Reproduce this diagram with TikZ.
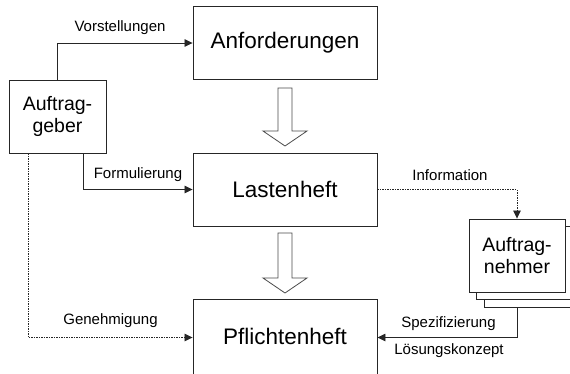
\documentclass[tikz,border=0pt]{standalone}
\usepackage{fontspec}
\setmainfont{Liberation Sans}
\usetikzlibrary{arrows.meta}
\tikzset{
  box/.style={draw=black!85, line width=0.9pt, fill=white, inner sep=0pt},
  bigbox/.style={box, minimum width=184pt, minimum height=73pt, font=\fontsize{22.5}{27}\selectfont},
  smallbox/.style={box, minimum width=97pt, minimum height=73pt, align=center, font=\fontsize{19.5}{22}\selectfont},
  conn/.style={draw=black!85, line width=0.8pt, -{Triangle[length=8pt,width=7.5pt]}},
  dotconn/.style={conn, dash pattern=on 1.5pt off 1pt},
  lbl/.style={inner sep=0pt, font=\fontsize{15}{17}\selectfont},
  blockarrow/.style={draw=black!70, line width=0.8pt, fill=white}
}
\begin{document}
\begin{tikzpicture}[x=1pt,y=-1pt]
\clip (0,0) rectangle (570,373);
\fill[white] (0,0) rectangle (570,373);

% main boxes
\node[bigbox] (anf) at (285,43) {Anforderungen};
\node[bigbox] (last) at (285,189.5) {Lastenheft};
\node[bigbox, minimum height=76pt] (pfl) at (285,337.5) {};
\node[inner sep=0pt, font=\fontsize{22.5}{27}\selectfont] (pfltext) at (285,336) {Pflichtenheft};

% Auftraggeber
\node[smallbox] (ag) at (57.5,116.5) {Auftrag-\\geber};

% Auftragnehmer stack
\node[smallbox, minimum width=96pt] (bk2) at (532,270.5) {};
\node[smallbox, minimum width=96pt] (bk1) at (524.5,263) {};
\node[smallbox, minimum width=96pt] (an) at (517,255.5) {Auftrag-\\nehmer};

% block arrows
\draw[blockarrow] (278,88) -- (278,131) -- (263,131) -- (285,146) -- (307,131) -- (292,131) -- (292,88) -- cycle;
\draw[blockarrow] (278,233) -- (278,278) -- (263,278) -- (285,293) -- (307,278) -- (292,278) -- (292,233) -- cycle;

% connectors
\draw[conn] (ag.north) |- (anf.west);
\node[lbl] (lv) at (120,28) {Vorstellungen};

\draw[conn] ([xshift=25.5pt]ag.south) |- (last.west);
\node[lbl] (lf) at (138,175) {Formulierung};

\draw[dotconn] ([xshift=-29.5pt]ag.south) |- (pfl.west);
\node[lbl] (lg) at (110.5,321) {Genehmigung};

\draw[dotconn] (last.east) -| (an.north);
\node[lbl] (li) at (450,175) {Information};

\coordinate (sp) at ([xshift=-15pt]bk2.south);
\draw[conn] (sp) |- (pfl.east);
\node[lbl] (ls) at (448.5,324) {Spezifizierung};
\node[lbl] (ll) at (449,351) {Lösungskonzept};
\end{tikzpicture}
\end{document}
